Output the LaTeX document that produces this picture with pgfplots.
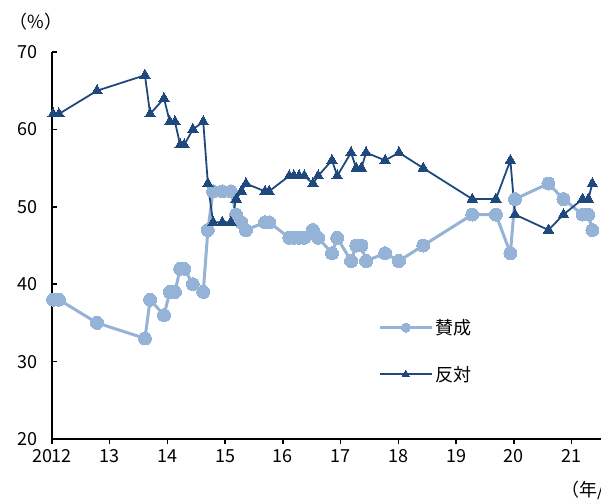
\documentclass[border=0pt]{standalone}
\usepackage{fontspec}
\setmainfont{Noto Sans CJK JP}
\usepackage{pgfplots}
\usepackage{pgfplotstable}
\pgfplotsset{compat=1.18}
\definecolor{sup}{RGB}{149,179,215}
\definecolor{opp}{RGB}{31,73,125}
\pgfplotstableread{
year sup opp
2012.02 38 62
2012.12 38 62
2012.78 35 65
2013.61 33 67
2013.70 38 62
2013.94 36 64
2014.04 39 61
2014.13 39 61
2014.22 42 58
2014.29 42 58
2014.44 40 60
2014.62 39 61
2014.70 47 53
2014.79 52 48
2014.95 52 48
2015.10 52 48
2015.19 49 51
2015.28 48 52
2015.36 47 53
2015.69 48 52
2015.76 48 52
2016.11 46 54
2016.19 46 54
2016.28 46 54
2016.37 46 54
2016.52 47 53
2016.61 46 54
2016.85 44 56
2016.94 46 54
2017.18 43 57
2017.27 45 55
2017.36 45 55
2017.44 43 57
2017.77 44 56
2018.01 43 57
2018.43 45 55
2019.28 49 51
2019.69 49 51
2019.94 44 56
2020.02 51 49
2020.60 53 47
2020.86 51 49
2021.19 49 51
2021.29 49 51
2021.36 47 53
}\datatable
\begin{document}
\begin{tikzpicture}
\begin{axis}[
  scale only axis, width=549pt, height=387pt,
  anchor=south west, at={(0,0)},
  xmin=2012, xmax=2021.51, ymin=20, ymax=70,
  axis x line*=bottom, axis y line*=left,
  axis line style={-, line width=1.5pt, black},
  xtick={2012,2013,...,2021},
  xticklabels={2012,13,14,15,16,17,18,19,20,21},
  ytick={20,30,...,70},
  xtick align=outside, ytick align=inside,
  major tick length=5pt,
  tick style={line width=1.5pt, black},
  /pgf/number format/assume math mode=true,
  tick label style={font=\fontsize{18}{18}\selectfont},
  yticklabel style={xshift=-11pt},
  xticklabel style={yshift=-2pt},
  clip=false,
  legend cell align=left,
  legend style={draw=none, fill=none, at={(rel axis cs:0.594,0.315)}, anchor=north west,
    inner sep=0pt, row sep=26pt, font=\fontsize{18}{18}\selectfont,
    /tikz/every even column/.append style={column sep=7pt}},
  legend image code/.code={\draw[mark repeat=2, mark phase=2, #1, every mark/.append style={scale=0.7}] plot coordinates {(0pt,0pt) (26pt,0pt) (52pt,0pt)};},
]
\addplot[color=sup, line width=3pt, mark=*, mark size=6.5pt, mark options={fill=sup, draw=sup, line width=0pt}] table[x=year, y=sup] {\datatable};
\addlegendentry{賛成}
\addplot[color=opp, line width=1.8pt, mark=triangle*, mark size=6pt, mark options={fill=opp, draw=opp, line width=0pt}] table[x=year, y=opp] {\datatable};
\addlegendentry{反対}
\end{axis}
\node[font=\fontsize{18}{18}\selectfont] at (-16pt,417pt) {（\%）};
\node[font=\fontsize{18}{18}\selectfont, anchor=west] at (506pt,-51pt) {（年/月）};
\pgfresetboundingbox
\path[use as bounding box] (-52pt,-60pt) rectangle (549pt,439pt);
\end{tikzpicture}
\end{document}
